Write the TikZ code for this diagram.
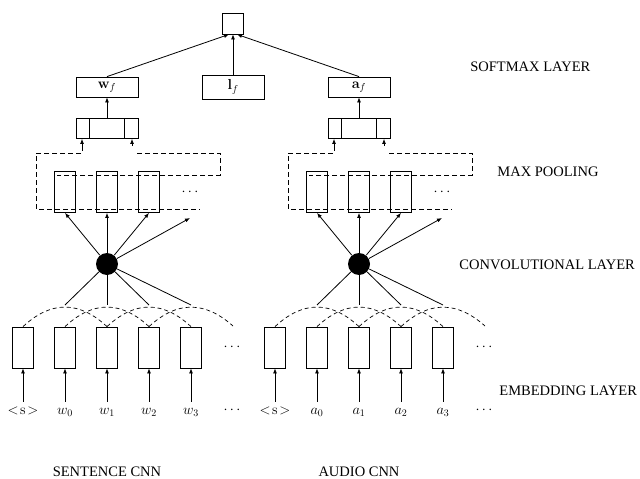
\documentclass[tikz,border=0pt]{standalone}
\usepackage[no-math]{fontspec}
\setmainfont{Liberation Serif}
\usetikzlibrary{arrows.meta}
\begin{document}
\begin{tikzpicture}[x=1pt,y=-1pt,line width=0.8pt,
  >={Latex[length=5pt,width=4pt]},
  font=\fontsize{14.5}{17}\selectfont,
  box/.style={draw,inner sep=0,minimum width=21pt,minimum height=41pt},
  outbox/.style={draw,inner sep=0,minimum width=62pt,minimum height=20pt},
  convnode/.style={circle,fill=black,minimum size=22pt,inner sep=0},
  pooldash/.style={dash pattern=on 5pt off 3pt},
  arcdash/.style={dash pattern=on 4pt off 3pt,line width=0.7pt},
  lbl/.style={anchor=base,inner sep=0,text height=12pt,text depth=3pt},
  layer/.style={anchor=base west,inner sep=0}]
\useasboundingbox (0,0) rectangle (640,479);

\foreach \p/\o/\v in {L/0/w,R/252/a}{
\begin{scope}[xshift=\o pt]
  % embedding layer
  \foreach \i/\x in {0/23,1/65,2/107,3/149,4/191}
    \node[box] (\p e\i) at (\x,347.5) {};
  \node[lbl] (\p t0) at (23,414) {$<\!\mathrm{s}\!>$};
  \foreach \i/\x/\s in {1/65/0,2/107/1,3/149/2,4/191/3}
    \node[lbl] (\p t\i) at (\x,414) {$\v_{\s}$};
  \node[anchor=base,inner sep=0] (\p d1) at (232,350.6) {$\cdots$};
  \node[anchor=base,inner sep=0] (\p d2) at (232,413.6) {$\cdots$};
  \foreach \i in {0,...,4}
    \draw[->] (\p t\i.north) -- (\p e\i.south);
  % dashed arcs
  \coordinate (\p z) at (233,326);
  \draw[arcdash] (\p e0.north) .. controls +(28,-26) and +(-28,-26) .. (\p e2.north);
  \draw[arcdash] (\p e1.north) .. controls +(28,-26) and +(-28,-26) .. (\p e3.north);
  \draw[arcdash] (\p e2.north) .. controls +(28,-26) and +(-28,-26) .. (\p e4.north);
  \draw[arcdash] (\p e3.north) .. controls +(28,-26) and +(-28,-25) .. (\p z);
  % convolution
  \node[convnode] (\p c) at (107,264) {};
  \foreach \i/\x in {1/65,2/107,3/149,4/191}{
    \coordinate (\p k\i) at (\x,305);
    \draw (\p c) -- (\p k\i);
  }
  % feature maps
  \foreach \i/\x in {1/65,2/107,3/149}
    \node[box] (\p m\i) at (\x,192) {};
  \node[anchor=base,inner sep=0] (\p d3) at (190,195.6) {$\cdots$};
  \coordinate (\p m4) at (190,218);
  \foreach \i in {1,2,3}
    \draw[->] (\p c) -- (\p m\i.south);
  \draw[->] (\p c) -- (\p m4);
  % pooled vector
  \node[outbox] (\p p) at (107,128.5) {};
  \draw ([xshift=14pt]\p p.north west) -- ([xshift=14pt]\p p.south west);
  \draw ([xshift=-14pt]\p p.north east) -- ([xshift=-14pt]\p p.south east);
  \coordinate (\p a1) at (82,146);
  \coordinate (\p a2) at (132,146);
  \draw[->] (\p a1) -- (\p a1 |- \p p.south);
  \draw[->] (\p a2) -- (\p a2 |- \p p.south);
  \draw[pooldash] (\p a1) -- (82,153) -- (36,153) -- (36,209) -- (200,209);
  \draw[pooldash] (137,153) -- (220,153) -- (220,175) -- (57,175);
  % feature vector
  \node[outbox] (\p f) at (107,87) {$\mathbf{\v}_f$};
  \draw[->] (\p p.north) -- (\p f.south);
\end{scope}
}

\node[draw,inner sep=0,minimum size=21pt] (top) at (233,23.5) {};
\node[outbox,minimum height=24pt] (lf) at (233,87) {$\mathbf{l}_f$};
\draw[->] (lf.north) -- (top.south);
\draw[->] (Lf.north) -- ([xshift=-4pt]top.south);
\draw[->] (Rf.north) -- ([xshift=4pt]top.south);

\node[layer] (soft) at (470,71.7) {SOFTMAX LAYER};
\node[layer] (maxp) at (497,176.7) {MAX POOLING};
\node[layer] (convl) at (459,269) {CONVOLUTIONAL LAYER};
\node[layer] (embl) at (499,395.7) {EMBEDDING LAYER};
\node[anchor=base,inner sep=0] (sent) at (107,476) {SENTENCE CNN};
\node[anchor=base,inner sep=0] (audio) at (359,476) {AUDIO CNN};
\end{tikzpicture}
\end{document}
